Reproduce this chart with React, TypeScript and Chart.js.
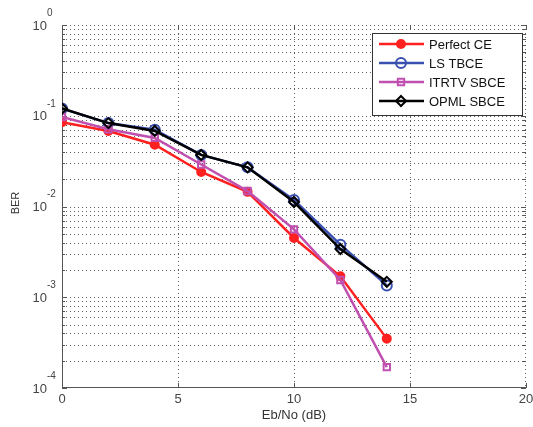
import React, { useEffect, useRef } from "react";
import { Chart, registerables } from "chart.js";

Chart.register(...registerables);

const ebNo = [0, 2, 4, 6, 8, 10, 12, 14];
const perfectCE = [0.085, 0.068, 0.048, 0.024, 0.0145, 0.0045, 0.0017, 0.00035];
const lsTBCE = [0.12, 0.083, 0.07, 0.037, 0.027, 0.0118, 0.0038, 0.00135];
const itrtvSBCE = [0.097, 0.071, 0.057, 0.029, 0.0148, 0.0056, 0.00155, 0.00017];
const opmlSBCE = [0.12, 0.083, 0.068, 0.037, 0.027, 0.0112, 0.0034, 0.00148];

const seriesNames = ["Perfect CE", "LS TBCE", "ITRTV SBCE", "OPML SBCE"];
const xTicks = [0, 5, 10, 15, 20];
const yExponents = [0, -1, -2, -3, -4];

const FONT = "Liberation Sans, Arial, sans-serif";

export default function App() {
  const ref = useRef<HTMLCanvasElement | null>(null);

  useEffect(() => {
    document.body.style.margin = "0";
    const canvas = ref.current!;
    const colors = ["#ff2020", "#3a50b0", "#c050b0", "#000000"];
    const styles: any[] = ["circle", "circle", "rect", "rectRot"];
    const fills = ["#ff2020", "rgba(0,0,0,0)", "rgba(0,0,0,0)", "rgba(0,0,0,0)"];
    const radii = [4, 5, 4.5, 5];
    const dataArr = [perfectCE, lsTBCE, itrtvSBCE, opmlSBCE];

    const datasets = dataArr.map((d, i) => ({
      label: seriesNames[i],
      data: ebNo.map((x, j) => ({ x, y: d[j] })),
      borderColor: colors[i],
      backgroundColor: fills[i],
      borderWidth: 2.5,
      pointStyle: styles[i],
      pointRadius: radii[i],
      pointBorderWidth: 2,
      pointBorderColor: colors[i],
      pointBackgroundColor: fills[i],
      tension: 0,
      order: 3 - i,
    }));

    function drawMarker(ctx: any, style: string, x: number, y: number, r: number, stroke: string, fill: string) {
      ctx.beginPath();
      if (style === "circle") {
        ctx.arc(x, y, r, 0, Math.PI * 2);
      } else if (style === "rect") {
        const s = r * Math.SQRT1_2;
        ctx.rect(x - s, y - s, 2 * s, 2 * s);
      } else {
        ctx.moveTo(x, y - r);
        ctx.lineTo(x + r, y);
        ctx.lineTo(x, y + r);
        ctx.lineTo(x - r, y);
        ctx.closePath();
      }
      ctx.fillStyle = fill;
      ctx.fill();
      ctx.strokeStyle = stroke;
      ctx.stroke();
    }

    const decorPlugin = {
      id: "decor",
      beforeDatasetsDraw(chart: any) {
        const ctx = chart.ctx;
        const { left, right, top, bottom } = chart.chartArea;
        const xs = chart.scales.x;
        const ys = chart.scales.y;
        ctx.save();
        ctx.strokeStyle = "rgba(40,40,40,0.75)";
        ctx.lineWidth = 1;
        ctx.setLineDash([1, 3]);
        for (let e = -4; e < 0; e++) {
          for (let k = 1; k <= 9; k++) {
            const v = k * Math.pow(10, e);
            if (k === 1 && e === -4) continue;
            const y = Math.round(ys.getPixelForValue(v)) + 0.5;
            ctx.beginPath();
            ctx.moveTo(left, y);
            ctx.lineTo(right, y);
            ctx.stroke();
          }
        }
        for (const t of xTicks) {
          if (t === 0 || t === 20) continue;
          const x = Math.round(xs.getPixelForValue(t)) + 0.5;
          ctx.beginPath();
          ctx.moveTo(x, top);
          ctx.lineTo(x, bottom);
          ctx.stroke();
        }
        ctx.beginPath();
        ctx.moveTo(left, top + 0.5);
        ctx.lineTo(right, top + 0.5);
        ctx.moveTo(right - 0.5, top);
        ctx.lineTo(right - 0.5, bottom);
        ctx.stroke();
        ctx.setLineDash([]);
        ctx.strokeStyle = "#555";
        ctx.beginPath();
        ctx.moveTo(left + 0.5, top);
        ctx.lineTo(left + 0.5, bottom);
        ctx.moveTo(left, bottom - 0.5);
        ctx.lineTo(right, bottom - 0.5);
        ctx.stroke();
        ctx.beginPath();
        for (const t of xTicks) {
          const x = Math.round(xs.getPixelForValue(t)) + 0.5;
          ctx.moveTo(x, bottom);
          ctx.lineTo(x, bottom - 5);
          ctx.moveTo(x, top);
          ctx.lineTo(x, top + 5);
        }
        for (let e = -4; e <= 0; e++) {
          for (let k = 1; k <= 9; k++) {
            const v = k * Math.pow(10, e);
            if (v > 1) break;
            const y = Math.round(ys.getPixelForValue(v)) + 0.5;
            const len = k === 1 ? 5 : 3;
            ctx.moveTo(left, y);
            ctx.lineTo(left + len, y);
            ctx.moveTo(right, y);
            ctx.lineTo(right - len, y);
          }
        }
        ctx.stroke();

        ctx.fillStyle = "#444";
        ctx.font = `13px ${FONT}`;
        ctx.textAlign = "center";
        ctx.textBaseline = "middle";
        for (const t of xTicks) {
          ctx.fillText(String(t), xs.getPixelForValue(t), bottom + 11);
        }
        for (const e of yExponents) {
          const y = ys.getPixelForValue(Math.pow(10, e));
          ctx.font = `13px ${FONT}`;
          ctx.textAlign = "right";
          ctx.textBaseline = "middle";
          ctx.fillText("10", left - 15, y + 1);
          ctx.font = `10px ${FONT}`;
          ctx.textAlign = "left";
          ctx.fillText(String(e), left - 15, y - 12);
        }
        ctx.fillStyle = "#333";
        ctx.font = `13px ${FONT}`;
        ctx.textAlign = "center";
        ctx.textBaseline = "middle";
        ctx.fillText("Eb/No (dB)", (left + right) / 2, bottom + 27);
        ctx.save();
        ctx.font = `11px ${FONT}`;
        ctx.translate(16, 203);
        ctx.rotate(-Math.PI / 2);
        ctx.fillText("BER", 0, 0);
        ctx.restore();
        ctx.restore();
      },
      afterDatasetsDraw(chart: any) {
        const ctx = chart.ctx;
        const bx = 372, by = 33, bw = 150, bh = 82;
        ctx.save();
        ctx.fillStyle = "#fff";
        ctx.fillRect(bx, by, bw, bh);
        ctx.strokeStyle = "#333";
        ctx.lineWidth = 1;
        ctx.strokeRect(bx + 0.5, by + 0.5, bw, bh);
        datasets.forEach((ds, i) => {
          const y = by + 11 + i * 19;
          ctx.strokeStyle = ds.borderColor;
          ctx.lineWidth = 2.5;
          ctx.beginPath();
          ctx.moveTo(379, y);
          ctx.lineTo(424, y);
          ctx.stroke();
          ctx.lineWidth = 2;
          drawMarker(ctx, ds.pointStyle, 401, y, ds.pointRadius, ds.borderColor, ds.pointBackgroundColor);
          ctx.fillStyle = "#111";
          ctx.font = `13px ${FONT}`;
          ctx.textAlign = "left";
          ctx.textBaseline = "middle";
          ctx.fillText(ds.label, 429, y + 1);
        });
        ctx.restore();
      },
    };

    const chart = new Chart(canvas, {
      type: "line",
      data: { datasets: datasets as any },
      options: {
        responsive: false,
        animation: false,
        layout: { padding: { left: 62, right: 7, top: 25, bottom: 39 } },
        plugins: { legend: { display: false }, tooltip: { enabled: false } },
        scales: {
          x: { type: "linear", min: 0, max: 20, display: false },
          y: { type: "logarithmic", min: 1e-4, max: 1, display: false },
        },
      },
      plugins: [decorPlugin],
    });
    return () => chart.destroy();
  }, []);

  return (
    <div style={{ position: "fixed", left: 0, top: 0, width: 533, height: 427, background: "#fff" }}>
      <canvas ref={ref} width={533} height={427} />
    </div>
  );
}
